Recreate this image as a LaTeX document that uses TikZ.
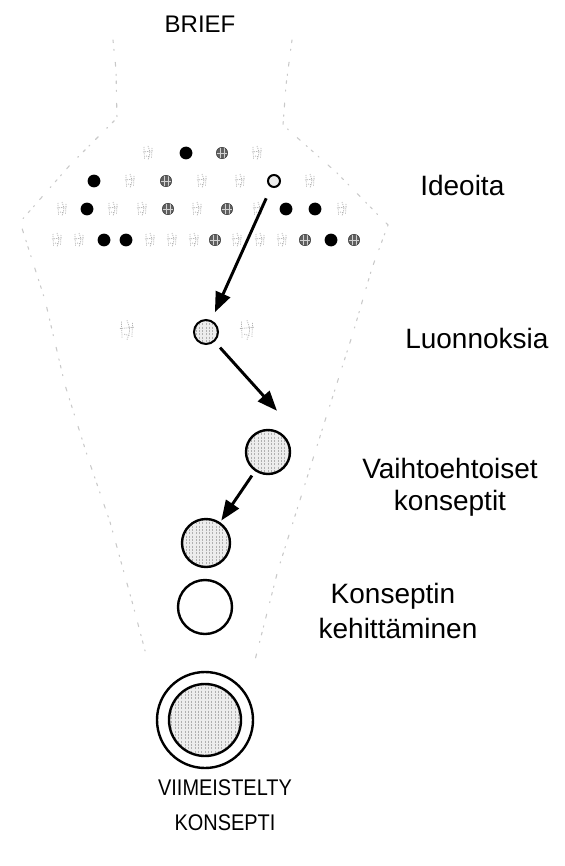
\documentclass[tikz,border=0pt]{standalone}
\usepackage{fontspec}
\setmainfont{Liberation Sans}
\usetikzlibrary{arrows.meta,calc}

\begin{document}
\begin{tikzpicture}[x=0.75pt,y=-0.75pt,
  lbl/.style={font=\fontsize{21}{25}\selectfont, anchor=base, inner sep=0},
  caps/.style={font=\fontsize{18}{22}\selectfont, anchor=base, inner sep=0},
  hatch/.style={path picture={
    \fill[gray!14] (path picture bounding box.south west) rectangle (path picture bounding box.north east);
    \foreach \k in {-14,...,14}
      \draw[gray!62, line width=0.45pt, dash pattern=on 1.6pt off 0.9pt]
        ([xshift=\k*2.5pt]path picture bounding box.north) -- ([xshift=\k*2.5pt]path picture bounding box.south);
  }},
  bdot/.style={circle, fill=black, minimum size=9.6pt, inner sep=0},
  hdot/.style={circle, fill=black!62, draw=black!85, line width=0.3pt, minimum size=8.6pt, inner sep=0,
    path picture={
      \draw[white!65!gray, line width=0.35pt]
        ([xshift=-1.4pt]path picture bounding box.north) -- ([xshift=-1.4pt]path picture bounding box.south)
        ([xshift=1.4pt]path picture bounding box.north) -- ([xshift=1.4pt]path picture bounding box.south)
        (path picture bounding box.west) -- (path picture bounding box.east);
    }},
  odot/.style={circle, draw=black, line width=1.5pt, fill=gray!15, minimum size=9pt, inner sep=0},
  bigc/.style={circle, draw=black, line width=1.8pt, inner sep=0, hatch},
  ring/.style={circle, draw=black, line width=1.8pt, fill=white, inner sep=0},
  arr/.style={line width=2.2pt, -{Triangle[length=15pt,width=11.5pt]}},
  funnel/.style={gray!42, line width=0.8pt, line cap=round,
    dash pattern=on 2pt off 5pt on 0.8pt off 9pt on 3pt off 6pt on 1pt off 4pt},
  sketch/.pic={
    \draw[gray!60, line width=0.55pt, dash pattern=on 0.8pt off 0.8pt]
      (-4,-6) -- (-3.5,6) (0,-7) .. controls (2.5,0) .. (0,7) (4,-5) -- (3.5,5)
      (-5,-1) -- (5,-2) (-2,3) -- (2,4);
  }
]
\useasboundingbox (0,0) rectangle (564,866);
\fill[white] (0,0) rectangle (564,866);

% faint outline of the funnel
\draw[funnel] (113,40) -- (116,70) -- (117,118) -- (70,165) -- (20,222) -- (45,300)
  -- (65,385) -- (88,458) -- (110,522) -- (133,605) -- (148,662);
\draw[funnel] (292,40) -- (286,85) -- (283,125) -- (337,173) -- (388,225) -- (372,268)
  -- (353,333) -- (323,427) -- (300,500) -- (278,570) -- (255,660);

% ideas, four rows
\foreach \x in {148,257} \pic at (\x,153) {sketch};
\node[bdot] (r1b) at (186,153) {};
\node[hdot] (r1h) at (222,153) {};

\foreach \x in {130,202,240,310} \pic at (\x,181) {sketch};
\node[bdot] (r2b) at (94,181) {};
\node[hdot] (r2h) at (166,181) {};
\node[odot] (idea) at (274,181) {};

\foreach \x in {62,113,142,197,258,342} \pic at (\x,209) {sketch};
\foreach \x [count=\i] in {87,286,315} \node[bdot] (r3b\i) at (\x,209) {};
\foreach \x [count=\i] in {168,227} \node[hdot] (r3h\i) at (\x,209) {};

\foreach \x in {57,79,150,172,194,237,260,282} \pic at (\x,240) {sketch};
\foreach \x [count=\i] in {104,126,331} \node[bdot] (r4b\i) at (\x,240) {};
\foreach \x [count=\i] in {215,305,354} \node[hdot] (r4h\i) at (\x,240) {};

% sketches
\pic[scale=1.4] at (127,330) {sketch};
\pic[scale=1.4] at (247,330) {sketch};
\node[bigc, line width=1.5pt, minimum size=18pt] (c2) at (206,332) {};

% alternative concepts and development
\node[bigc, minimum size=33pt] (c3) at (268,452) {};
\node[bigc, minimum size=36pt] (c4) at (206,543) {};
\node[ring, minimum size=40.5pt] (c5) at (205,607) {};

% finished concept
\node[ring, minimum size=72pt] (fin) at (205,720) {};
\node[bigc, minimum size=54pt] (core) at (fin) {};

% arrows
\coordinate (t2) at ($(c3.north)+(9,-18)$);
\draw[arr, shorten <=9pt, shorten >=6.5pt] (idea) -- (c2);
\draw[arr, shorten <=6pt] (c2) -- (t2);
\draw[arr, shorten <=4pt, shorten >=1.5pt] (c3) -- (c4);

% labels
\node[caps] (brief) at (200,33) {BRIEF};
\node[lbl, anchor=base west] (ideas) at (420,196) {Ideoita};
\node[lbl, anchor=base west] (sk) at (405,348) {Luonnoksia};
\node[lbl] (alt1) at (450,478) {Vaihtoehtoiset};
\node[lbl] (alt2) at (450,510) {konseptit};
\node[lbl] (dev1) at (393,603) {Konseptin};
\node[lbl] (dev2) at (398,638) {kehittäminen};
\node[caps, font=\fontsize{17}{21}\selectfont, xscale=0.88] (fin1) at (225,795) {VIIMEISTELTY};
\node[caps, font=\fontsize{17}{21}\selectfont, xscale=0.88] (fin2) at (225,830) {KONSEPTI};
\end{tikzpicture}
\end{document}
